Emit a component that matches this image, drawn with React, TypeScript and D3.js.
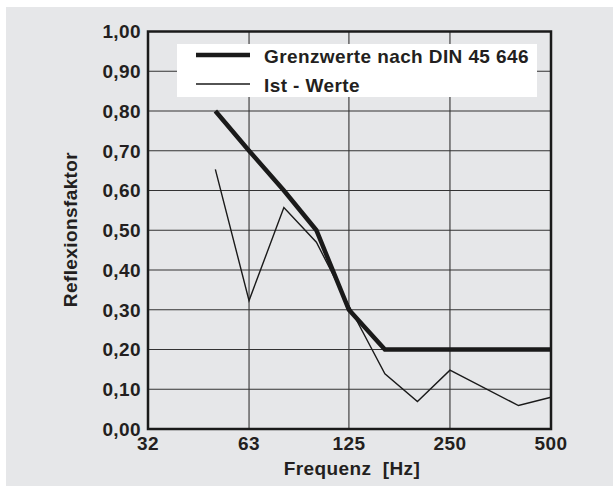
import React from "react";
import * as d3 from "d3";

const xTickValues = [31.5, 63, 125, 250, 500];
const xTickLabels = ["32", "63", "125", "250", "500"];
const yTickValues = [0, 0.1, 0.2, 0.3, 0.4, 0.5, 0.6, 0.7, 0.8, 0.9, 1.0];

const limitFreq = [50, 63, 80, 100, 125, 160, 500];
const limitVals = [0.8, 0.7, 0.6, 0.5, 0.3, 0.2, 0.2];

const actualFreq = [50, 63, 80, 100, 125, 160, 200, 250, 400, 500];
const actualVals = [0.653, 0.323, 0.557, 0.47, 0.31, 0.139, 0.069, 0.148, 0.059, 0.08];

const seriesNames = ["Grenzwerte nach DIN 45 646", "Ist - Werte"];
const xTitle = "Frequenz  [Hz]";
const yTitle = "Reflexionsfaktor";

const W = 613;
const H = 486;
const L = 148, R = 551, T = 31.5, B = 429;
const FONT = "'Liberation Sans', Arial, Helvetica, sans-serif";
const TXT = "#231f20";

export default function App() {
  const x = d3.scaleLog().domain([31.5, 500]).range([L, R]);
  const y = d3.scaleLinear().domain([0, 1]).range([B, T]);
  const fmt = (v: number) => v.toFixed(2).replace(".", ",");

  const line = d3
    .line<[number, number]>()
    .x((d) => x(d[0]))
    .y((d) => y(d[1]));

  const limitPts: [number, number][] = limitFreq.map((f, i) => [f, limitVals[i]]);
  const actualPts: [number, number][] = actualFreq.map((f, i) => [f, actualVals[i]]);

  const textStyle = {
    fontFamily: FONT,
    fontWeight: 700,
    fontSize: 19,
    letterSpacing: 0.4,
    fill: TXT,
  } as React.CSSProperties;

  return (
    <svg
      width={W}
      height={H}
      style={{ position: "absolute", left: 0, top: 0 }}
    >
      <rect x={0} y={0} width={W} height={H} fill="#ffffff" />
      <rect x={6} y={7} width={W - 6} height={H - 7} fill="#e6e7e9" />

      {/* grid */}
      {yTickValues.slice(1, -1).map((v) => (
        <line key={"gy" + v} x1={L} x2={R} y1={y(v)} y2={y(v)} stroke="#333" strokeWidth={1.1} />
      ))}
      {xTickValues.slice(1, -1).map((v) => (
        <line key={"gx" + v} x1={x(v)} x2={x(v)} y1={T} y2={B} stroke="#333" strokeWidth={1.1} />
      ))}

      {/* legend box */}
      <rect x={177} y={44} width={360} height={53} fill="#ffffff" />
      <line x1={196} x2={250} y1={55} y2={55} stroke="#1a1a1a" strokeWidth={4.5} />
      <line x1={196} x2={250} y1={84} y2={84} stroke="#1a1a1a" strokeWidth={1.4} />
      <text x={264} y={62.7} style={textStyle}>{seriesNames[0]}</text>
      <text x={264} y={91.7} style={textStyle}>{seriesNames[1]}</text>

      {/* data */}
      <path d={line(actualPts) || ""} fill="none" stroke="#1a1a1a" strokeWidth={1.4} strokeLinejoin="miter" />
      <path d={line(limitPts) || ""} fill="none" stroke="#1a1a1a" strokeWidth={4.5} strokeLinejoin="miter" />

      {/* frame */}
      <rect x={L} y={T} width={R - L} height={B - T} fill="none" stroke="#1a1a1a" strokeWidth={2.5} />

      {/* y tick labels */}
      {yTickValues.map((v) => (
        <text key={"yl" + v} x={141} y={y(v) + 6.8} textAnchor="end" style={textStyle}>
          {fmt(v)}
        </text>
      ))}
      {/* x tick labels */}
      {xTickValues.map((v, i) => (
        <text key={"xl" + v} x={x(v)} y={450} textAnchor="middle" style={textStyle}>
          {xTickLabels[i]}
        </text>
      ))}

      <text x={352} y={475} textAnchor="middle" style={{ ...textStyle, whiteSpace: "pre" }} xmlSpace="preserve">
        {xTitle}
      </text>
      <text
        transform={`translate(76.7,229.5) rotate(-90)`}
        textAnchor="middle"
        style={textStyle}
      >
        {yTitle}
      </text>
    </svg>
  );
}
